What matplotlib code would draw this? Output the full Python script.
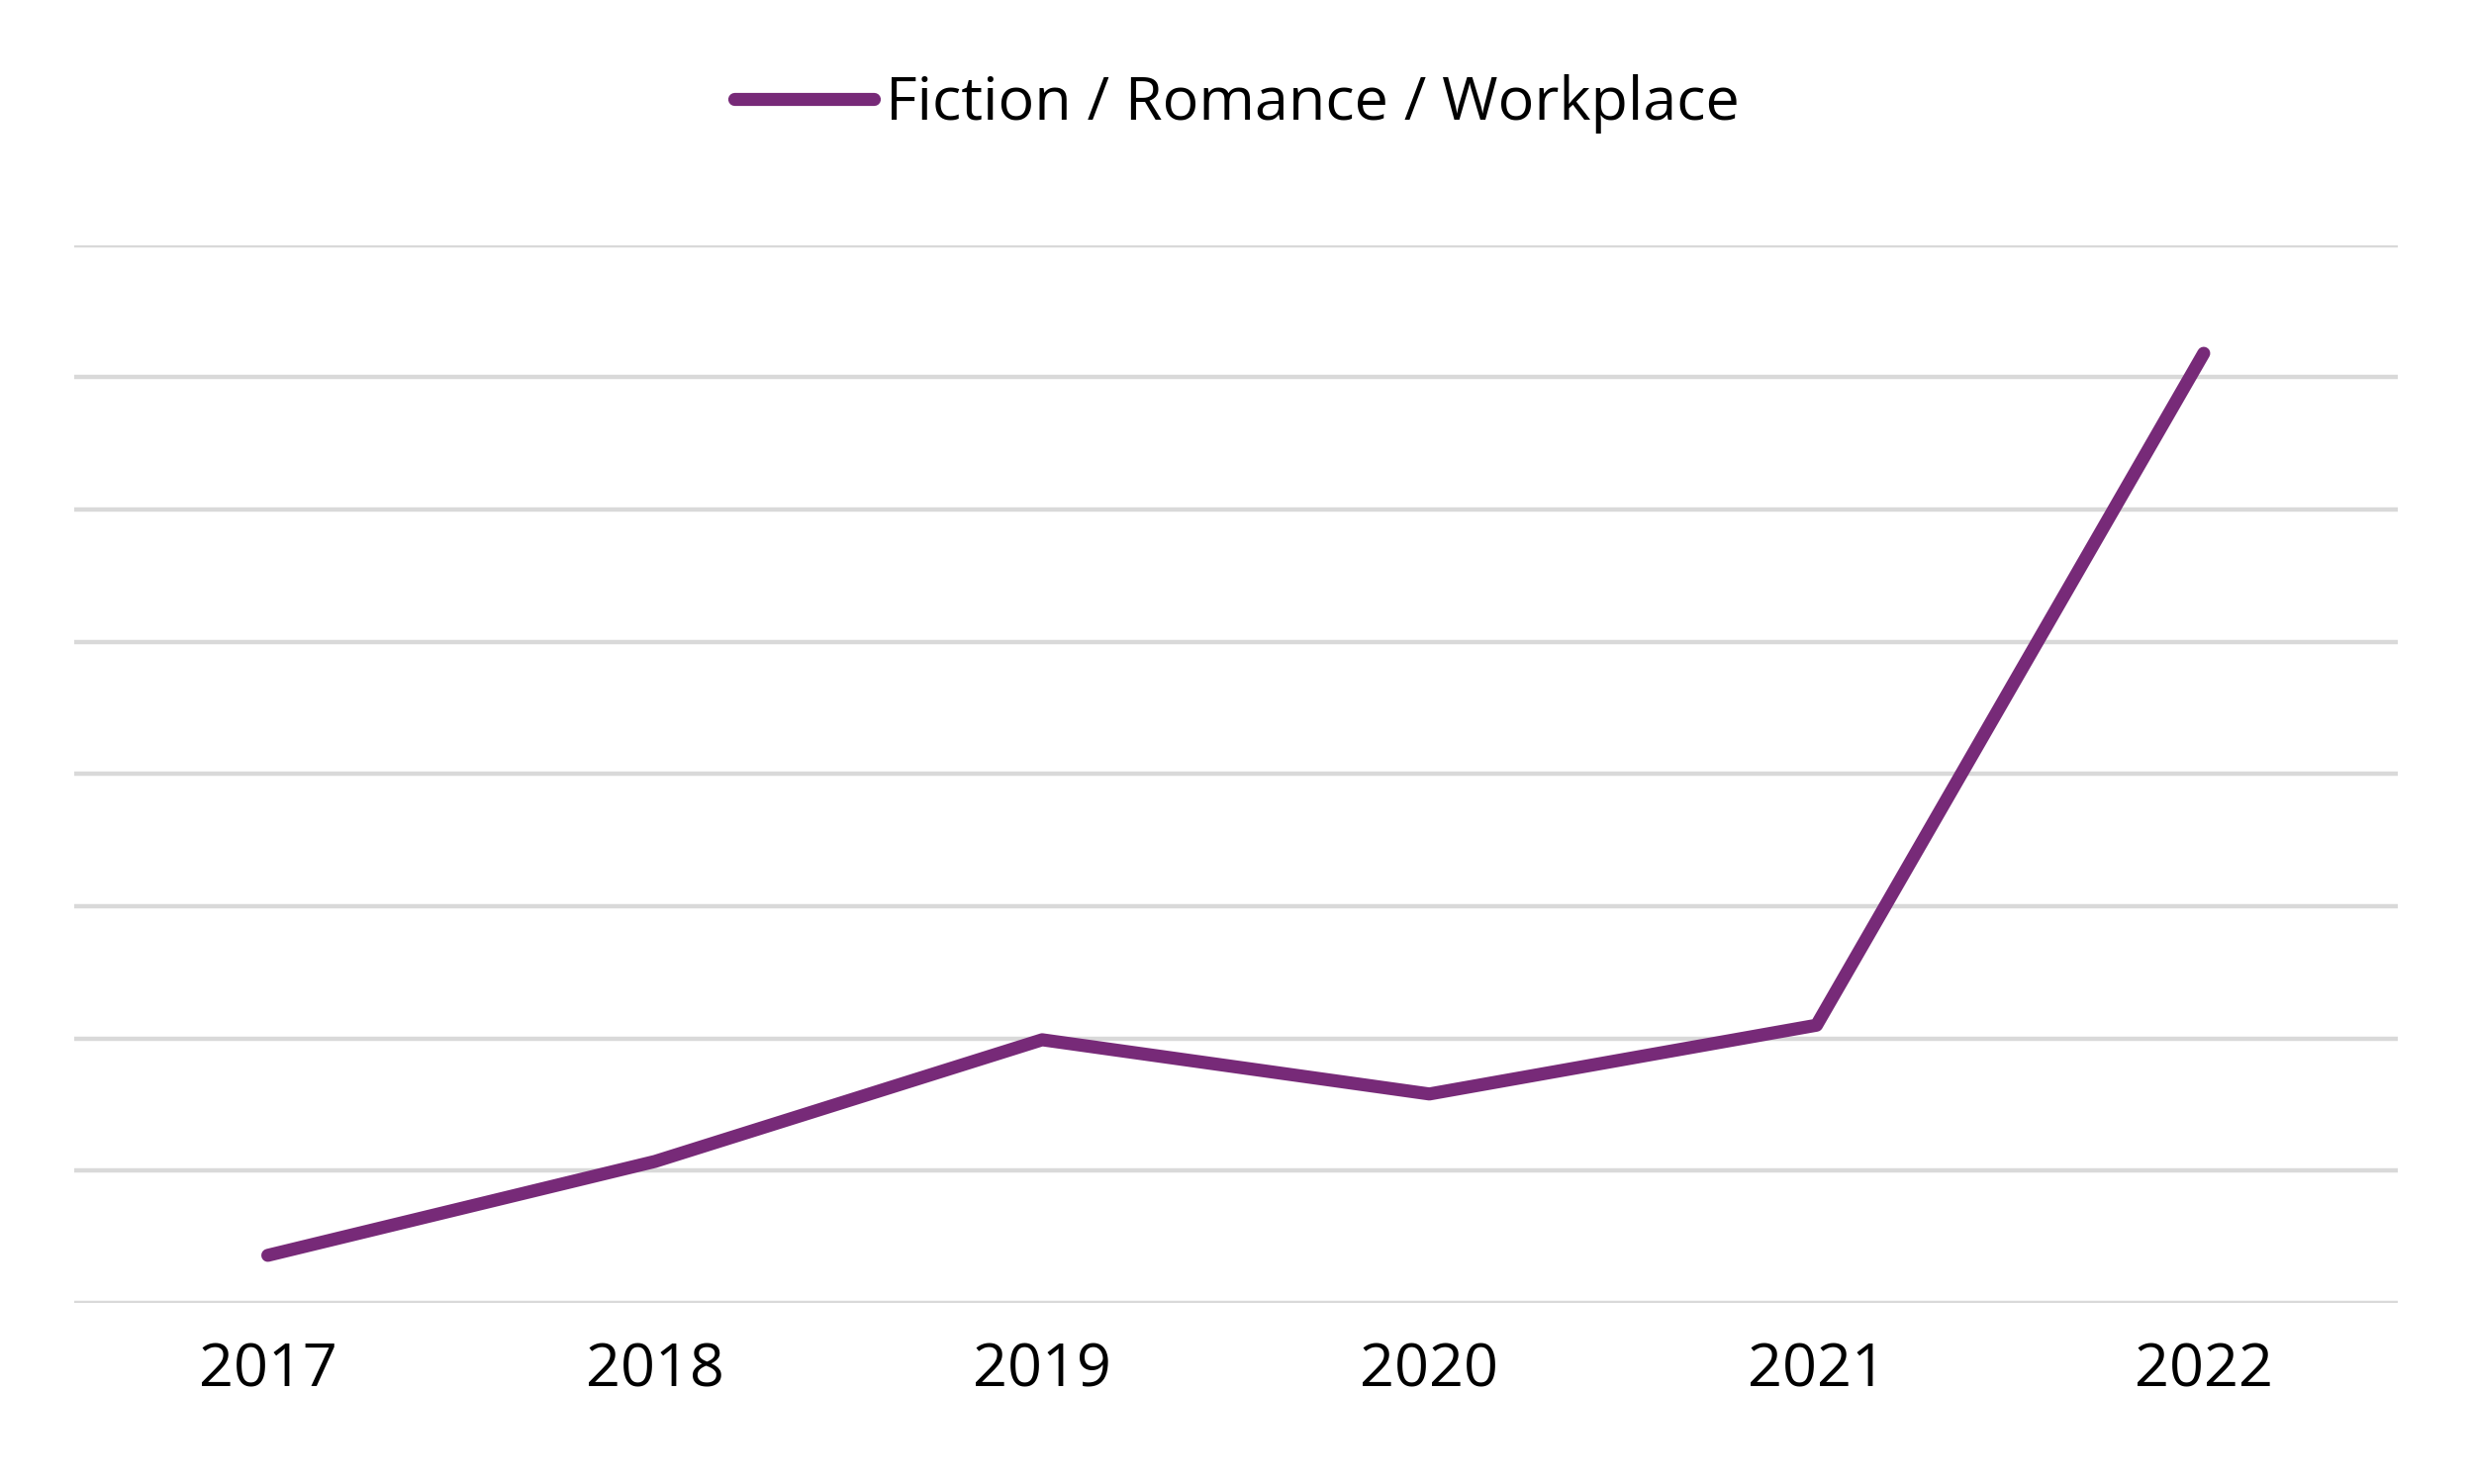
import matplotlib
matplotlib.use("Agg")
import matplotlib.pyplot as plt

years = ["2017", "2018", "2019", "2020", "2021", "2022"]
values = [0.36, 1.07, 1.99, 1.58, 2.1, 7.18]
series_name = "Fiction / Romance / Workplace"

plt.rcParams['font.family'] = ['Open Sans', 'DejaVu Sans']
fig = plt.figure(figsize=(25, 15), dpi=100)
ax = fig.add_axes([0.030, 0.122, 0.939, 0.713])
x = list(range(len(years)))
ax.plot(x, values, color="#772a78", lw=9.5, solid_capstyle="round", solid_joinstyle="round",
        label=series_name, zorder=3)
ax.set_xlim(-0.5, 5.5)
ax.set_ylim(0, 8)
ax.set_yticks(range(0, 9))
ax.yaxis.grid(True, color="#d9d9d9", lw=3.2)
ax.tick_params(axis="y", left=False, labelleft=False)
ax.tick_params(axis="x", length=0, labelsize=44, pad=28)
ax.set_xticks(x)
ax.set_xticklabels(years)
for s in ax.spines.values():
    s.set_visible(False)
fig.legend(loc="center", bbox_to_anchor=(0.5, 0.93), frameon=False, fontsize=44,
           handlelength=2.3, handletextpad=0.2)
fig.savefig("out.png", dpi=100, facecolor="white")
